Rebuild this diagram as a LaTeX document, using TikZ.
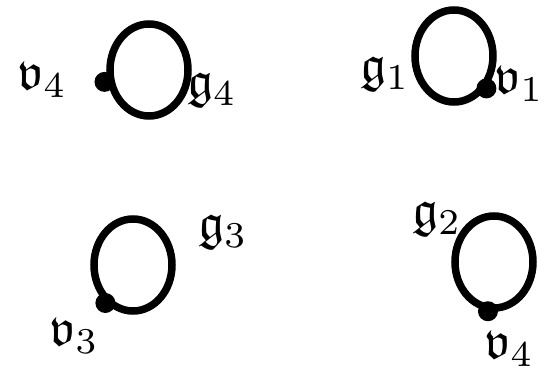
\documentclass[tikz,border=0pt]{standalone}
\usepackage{amsmath,amssymb}
\usepackage{tikz}
\usetikzlibrary{positioning,shapes.geometric}

\begin{document}
\begin{tikzpicture}[
    x=1pt, y=-1pt,
    loopbox/.style={draw, ellipse, line width=7.5pt, minimum width=78pt, minimum height=92pt, inner sep=0pt},
    dot/.style={circle, fill, minimum size=20pt, inner sep=0pt, outer sep=0pt},
    lbl/.style={inner sep=0pt, scale=5.2, transform shape}
  ]
  \useasboundingbox (0,0) rectangle (547,374);

  % loops
  \node[loopbox] (l4) at (149,70) {};
  \node[loopbox] (l1) at (454,56) {};
  \node[loopbox] (l3) at (133,265) {};
  \node[loopbox] (l2) at (494,262) {};

  % vertices
  \node[dot, xshift=-3pt] (v4) at (l4.196) {};
  \node[dot] (v1) at (l1.315) {};
  \node[dot] (v3) at (l3.234) {};
  \node[dot] (v2) at (l2.263) {};

  % labels
  \node[lbl] (a4) at (42,80) {$\mathfrak{v}_4$};
  \node[lbl] (b4) at (212,90) {$\mathfrak{g}_4$};
  \node[lbl] (b1) at (385,74) {$\mathfrak{g}_1$};
  \node[lbl] (a1) at (519,84) {$\mathfrak{v}_1$};
  \node[lbl] (b3) at (223,232) {$\mathfrak{g}_3$};
  \node[lbl] (a3) at (74,336) {$\mathfrak{v}_3$};
  \node[lbl] (b2) at (437,219) {$\mathfrak{g}_2$};
  \node[lbl] (a2) at (509,349) {$\mathfrak{v}_4$};
\end{tikzpicture}
\end{document}
